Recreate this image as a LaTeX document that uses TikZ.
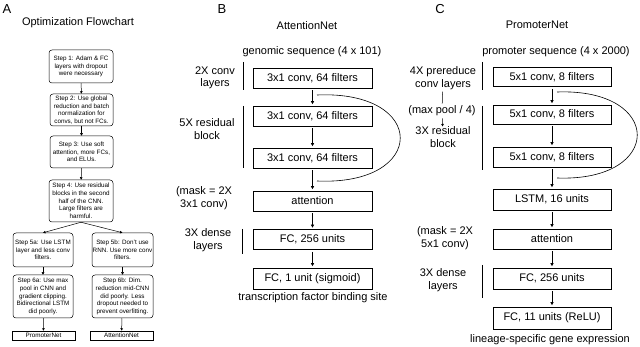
\documentclass[tikz,border=0pt]{standalone}
\usepackage{fontspec}
\setmainfont{Liberation Sans}
\usetikzlibrary{arrows.meta}
\begin{document}
\begin{tikzpicture}[x=1pt,y=-1pt,
 stepbox/.style={draw, rounded corners=3pt, line width=0.5pt, align=center, inner sep=0pt, font=\fontsize{6.3}{7.7}\selectfont},
 endbox/.style={draw, line width=0.5pt, inner sep=0pt, minimum width=63pt, minimum height=9pt, font=\fontsize{6.3}{7.7}\selectfont},
 layer/.style={draw, line width=0.6pt, inner sep=0pt, minimum width=119pt, minimum height=20pt, font=\fontsize{11}{13}\selectfont},
 lbl/.style={align=center, inner sep=0pt, font=\fontsize{11}{12.5}\selectfont},
 ttl/.style={inner sep=0pt, font=\fontsize{11}{13}\selectfont},
 panel/.style={inner sep=0pt, font=\fontsize{13}{15}\selectfont},
 arr/.style={-{Triangle[length=3pt,width=3pt]}, line width=0.6pt, shorten <=2pt, shorten >=1.5pt},
 sarr/.style={-{Triangle[length=2.5pt,width=2.5pt]}, line width=0.5pt},
 bar/.style={line width=0.9pt},
 curv/.style={line width=0.6pt}
]
\useasboundingbox (0,0) rectangle (640,347);

% ---------------- Panel A ----------------
\node[panel] (pa) at (7,9) {A};
\node[ttl] (ta) at (78,23) {Optimization Flowchart};
\node[stepbox, minimum width=64pt, minimum height=33pt] (s1) at (81,66.5) {Step 1: Adam \& FC\\layers with dropout\\were necessary};
\node[stepbox, minimum width=63pt, minimum height=32pt] (s2) at (81.5,110) {Step 2: Use global\\reduction and batch\\normalization for\\convs, but not FCs.};
\node[stepbox, minimum width=63pt, minimum height=32pt] (s3) at (81.5,152) {Step 3: Use soft\\attention, more FCs,\\and ELUs.};
\node[stepbox, minimum width=64pt, minimum height=42pt] (s4) at (81,201) {Step 4: Use residual\\blocks in the second\\half of the CNN.\\Large filters are\\harmful.};
\node[stepbox, minimum width=60pt, minimum height=34pt] (s5a) at (43,250) {Step 5a: Use LSTM\\layer and less conv\\filters.};
\node[stepbox, minimum width=61pt, minimum height=34pt] (s5b) at (122.5,250) {Step 5b: Don't use\\RNN. Use more conv\\filters.};
\node[stepbox, minimum width=60pt, minimum height=43pt] (s6a) at (43,296.5) {Step 6a: Use max\\pool in CNN and\\gradient clipping.\\Bidirectional LSTM\\did poorly.};
\node[stepbox, minimum width=61pt, minimum height=43pt] (s6b) at (122.5,296.5) {Step 6b: Dim.\\reduction mid-CNN\\did poorly. Less\\dropout needed to\\prevent overfitting.};
\node[endbox] (ep) at (43.5,335.5) {PromoterNet};
\node[endbox] (ea) at (121.5,335.5) {AttentionNet};
\draw[sarr] (s1) -- (s2);
\draw[sarr] (s2) -- (s3);
\draw[sarr] (s3) -- (s4);
\draw[sarr] (s4.south) -- (s5a.north);
\draw[sarr] (s4.south) -- (s5b.north);
\draw[sarr] (s5a) -- (s6a);
\draw[sarr] (s5b) -- (s6b);
\draw[sarr] (s6a) -- (ep);
\draw[sarr] (s6b) -- (ea);

% ---------------- Panel B ----------------
\node[panel] (pb) at (222,9) {B};
\node[ttl] (tb) at (307,26) {AttentionNet};
\node[ttl] (inb) at (312,52) {genomic sequence (4 x 101)};
\node[layer] (b1) at (312.5,78) {3x1 conv, 64 filters};
\node[layer] (b2) at (312.5,116) {3x1 conv, 64 filters};
\node[layer] (b3) at (312.5,158) {3x1 conv, 64 filters};
\node[layer] (b4) at (312.5,201) {attention};
\node[layer] (b5) at (312.5,239.5) {FC, 256 units};
\node[layer, minimum height=21pt] (b6) at (312.5,278.5) {FC, 1 unit (sigmoid)};
\node[ttl] (outb) at (313,298) {transcription factor binding site};
\draw[arr] (b1) -- (b2);
\draw[arr] (b2) -- (b3);
\draw[arr] (b3) -- (b4);
\draw[arr] (b4) -- (b5);
\draw[arr] (b5) -- (b6);
\coordinate (bc1) at (317,95);
\coordinate (bc2) at (317,181);
\draw[curv] (bc1) .. controls (428,90) and (428,186) .. (bc2);
\node[lbl] (lb1) at (215,78) {2X conv\\layers};
\node[lbl] (lb2) at (207,129) {5X residual\\block};
\node[lbl] (lb3) at (204,198) {(mask = 2X\\3x1 conv)};
\node[lbl] (lb4) at (208,240) {3X dense\\layers};
\draw[bar] (243,62) -- (243,90);
\draw[bar] (243,106) -- (243,168);
\draw[bar] (242,229) -- (242,254);

% ---------------- Panel C ----------------
\node[panel] (pc) at (440,9) {C};
\node[ttl] (tc) at (537,25) {PromoterNet};
\node[ttl] (inc) at (556,52) {promoter sequence (4 x 2000)};
\node[layer, minimum width=118pt, minimum height=19pt] (c1) at (552,77) {5x1 conv, 8 filters};
\node[layer, minimum width=118pt, minimum height=19pt] (c2) at (552,114.5) {5x1 conv, 8 filters};
\node[layer, minimum width=118pt, minimum height=20pt] (c3) at (552,157) {5x1 conv, 8 filters};
\node[layer, minimum width=118pt, minimum height=21pt] (c4) at (552,199.5) {LSTM, 16 units};
\node[layer, minimum width=118pt, minimum height=20pt] (c5) at (552,239) {attention};
\node[layer, minimum width=118pt, minimum height=21pt] (c6) at (552,278.5) {FC, 256 units};
\node[layer, minimum width=118pt, minimum height=22pt] (c7) at (552,318) {FC, 11 units (ReLU)};
\node[ttl] (outc) at (550,340) {lineage-specific gene expression};
\draw[arr] (c1) -- (c2);
\draw[arr] (c2) -- (c3);
\draw[arr] (c3) -- (c4);
\draw[arr] (c4) -- (c5);
\draw[arr] (c5) -- (c6);
\draw[arr] (c6) -- (c7);
\coordinate (cc1) at (557,92);
\coordinate (cc2) at (557,178);
\draw[curv] (cc1) .. controls (664,88) and (664,182) .. (cc2);
\node[lbl] (lc1) at (443,78) {4X prereduce\\conv layers};
\node[lbl] (lc2) at (442,111) {(max pool / 4)};
\node[lbl] (lc3) at (443,137) {3X residual\\block};
\node[lbl] (lc4) at (445,238) {(mask = 2X\\5x1 conv)};
\node[lbl] (lc5) at (443,280) {3X dense\\layers};
\draw[line width=0.5pt, shorten <=2pt, shorten >=2pt] (lc1) -- (lc2);
\draw[sarr, shorten <=2pt] (lc2) -- (lc3);
\draw[bar] (482,62) -- (482,90);
\draw[bar] (482,106) -- (482,170);
\draw[bar] (482,265) -- (482,298);
\end{tikzpicture}
\end{document}
